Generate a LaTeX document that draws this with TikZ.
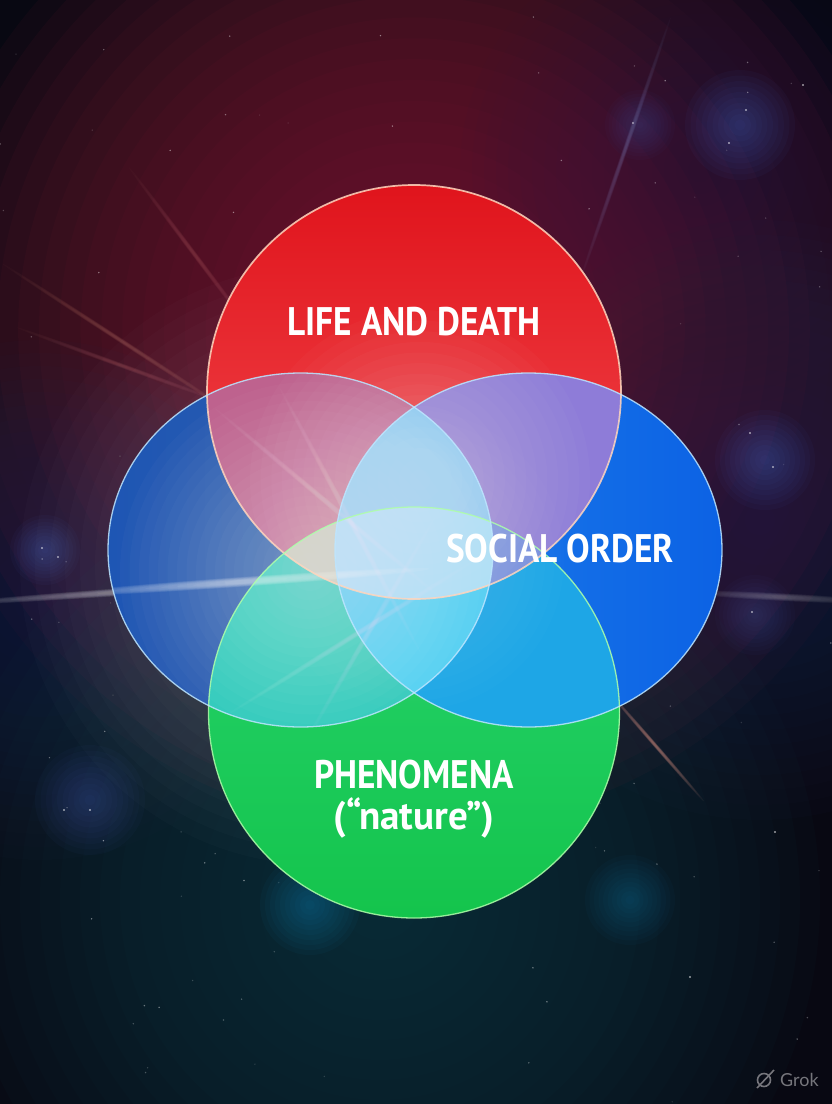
\documentclass[tikz,border=0pt]{standalone}
\usepackage{fontspec}
\setmainfont{PT Sans}
\newfontfamily\lblfont{PT Sans}[FakeStretch=0.885]
\newfontfamily\natfont{PT Sans}[FakeStretch=0.98]
\newfontfamily\wmfont{Lato}
\usetikzlibrary{calc}

\definecolor{bgbase}{RGB}{8,8,18}
\definecolor{glowmaroon}{RGB}{128,28,52}
\definecolor{glownavy}{RGB}{34,42,88}
\definecolor{glowteal}{RGB}{22,60,72}
\definecolor{nebblue}{RGB}{80,110,210}
\definecolor{redtop}{RGB}{224,20,28}
\definecolor{redbot}{RGB}{244,78,82}
\definecolor{lonlyA}{RGB}{30,86,180}
\definecolor{lonlyB}{RGB}{52,96,168}
\definecolor{ronlyA}{RGB}{30,128,236}
\definecolor{ronlyB}{RGB}{12,98,228}
\definecolor{gtop}{RGB}{40,212,112}
\definecolor{gbot}{RGB}{20,196,76}
\definecolor{cRL}{RGB}{190,98,142}
\definecolor{cRR}{RGB}{142,124,216}
\definecolor{cGL}{RGB}{40,200,186}
\definecolor{cGR}{RGB}{30,166,230}
\definecolor{cRLR}{RGB}{132,196,240}
\definecolor{cGLR}{RGB}{72,206,242}
\definecolor{cRGL}{RGB}{206,200,182}
\definecolor{cRGR}{RGB}{112,138,222}
\definecolor{cAll}{RGB}{168,224,245}
\definecolor{redline}{RGB}{255,214,190}
\definecolor{raycol}{RGB}{255,170,150}
\definecolor{blueline}{RGB}{190,230,255}
\definecolor{greenline}{RGB}{175,255,170}
\definecolor{wmgrey}{RGB}{118,118,124}

\def\Rpath{(414,392) circle [radius=207]}
\def\Lpath{(300.5,550) ellipse [x radius=192.5, y radius=177]}
\def\RTpath{(528.5,550) ellipse [x radius=193.5, y radius=177]}
\def\Gpath{(414,712.5) circle [radius=205.5]}

% soft glow: colour, x, y, radius, peak opacity, steps
\newcommand\mkglow[6]{%
  \pgfmathsetmacro\mkga{1-(1-#5)^(1/#6)}%
  \foreach \mkk in {1,...,#6}{\fill[#1, opacity=\mkga] (#2,#3) circle [radius={#4*\mkk/#6}];}%
}
% light streak: colour, x, y, rotation, half length, half width, peak opacity
\newcommand\mkstreak[7]{%
  \pgfmathsetmacro\mksa{1-(1-#7)^(1/12)}%
  \foreach \mkk in {1,...,12}{\fill[#1, opacity=\mksa, rotate around={#4:(#2,#3)}] (#2,#3) ellipse [x radius={#5*\mkk/12}, y radius={#6*(0.3+0.7*\mkk/12)}];}%
}

\tikzset{
  lbl/.style={text=white, font=\lblfont\fontsize{40}{44}\selectfont\bfseries, inner sep=0pt},
  outline/.style={line width=1.3pt, draw opacity=0.85}
}

\begin{document}
\begin{tikzpicture}[x=1bp,y=-1bp]
\useasboundingbox (0,0) rectangle (832,1104);
% ---------- background ----------
\fill[bgbase] (0,0) rectangle (832,1104);
\mkglow{glowmaroon}{414}{330}{500}{0.85}{24}
\mkglow{glownavy}{760}{520}{300}{0.6}{20}
\mkglow{glownavy}{40}{600}{260}{0.6}{20}
\mkglow{glowteal}{380}{900}{440}{0.75}{22}
\mkglow{glownavy}{700}{170}{240}{0.4}{20}
% nebula patches
\mkglow{nebblue}{740}{125}{55}{0.35}{10}
\mkglow{nebblue}{640}{125}{35}{0.25}{10}
\mkglow{nebblue}{765}{460}{50}{0.35}{10}
\mkglow{nebblue}{90}{800}{55}{0.3}{10}
\mkglow{nebblue}{45}{550}{35}{0.35}{10}
\mkglow{nebblue}{755}{615}{40}{0.25}{10}
\mkglow{cGR}{630}{900}{45}{0.25}{10}
\mkglow{cGR}{310}{905}{50}{0.3}{10}
% stars
\pgfmathsetseed{7}
\foreach \i in {1,...,110}{
  \pgfmathsetmacro\sx{rnd*832}
  \pgfmathsetmacro\sy{rnd*1104}
  \pgfmathsetmacro\so{0.1+0.4*rnd}
  \fill[white, opacity=\so] (\sx,\sy) circle [radius=0.8];
}
\foreach \p in {(746,110),(729,143),(803,85),(633,123),(773,467),(750,433),(42,548),(58,557),(90,810),(64,810),(775,832),(752,612),(690,977)}{
  \fill[white, opacity=0.6] \p circle [radius=1.2];
}
% light streaks behind the circles
\mkstreak{white}{150}{590}{4}{210}{4}{0.45}
\mkstreak{white}{780}{597}{-3}{100}{4}{0.25}
\mkstreak{raycol}{120}{340}{-33}{140}{2.5}{0.25}
\mkstreak{raycol}{120}{365}{-20}{110}{2.5}{0.2}
\mkstreak{raycol}{195}{255}{-53}{110}{2.5}{0.22}
\mkstreak{nebblue!60!white}{625}{150}{71}{140}{2.5}{0.3}
\mkstreak{raycol}{655}{745}{-49}{75}{2}{0.5}
\mkglow{white}{320}{565}{300}{0.28}{20}

% ---------- single sets ----------
\shade[top color=redtop, bottom color=redbot] \Rpath;
\shade[left color=lonlyA, right color=lonlyB] \Lpath;
\shade[left color=ronlyA, right color=ronlyB] \RTpath;
\shade[top color=gtop, bottom color=gbot] \Gpath;
% ---------- pairs ----------
\begin{scope}\clip \Rpath; \fill[cRL] \Lpath; \fill[cRR] \RTpath; \end{scope}
\begin{scope}\clip \Gpath; \fill[cGL] \Lpath; \fill[cGR] \RTpath; \end{scope}
% ---------- triples ----------
\begin{scope}\clip \Rpath; \clip \Lpath; \fill[cRLR] \RTpath; \end{scope}
\begin{scope}\clip \Gpath; \clip \Lpath; \fill[cGLR] \RTpath; \end{scope}
\begin{scope}\clip \Rpath; \clip \Gpath; \fill[cRGL] \Lpath; \end{scope}
\begin{scope}\clip \Rpath; \clip \Gpath; \fill[cRGR] \RTpath; \end{scope}
% ---------- all four ----------
\begin{scope}\clip \Rpath; \clip \Gpath; \clip \Lpath; \fill[cAll] \RTpath; \end{scope}

% ---------- lighting over the sets ----------
\begin{scope}
\clip \Lpath;
\mkglow{white}{310}{572}{190}{0.4}{20}
\mkstreak{white}{240}{582}{4}{190}{5}{0.5}
\mkstreak{white}{330}{505}{-40}{150}{3}{0.25}
\mkstreak{white}{350}{520}{-62}{150}{3}{0.25}
\mkstreak{white}{355}{635}{32}{150}{3}{0.25}
\mkstreak{white}{370}{630}{60}{130}{3}{0.2}
\end{scope}
\begin{scope}
\clip \Rpath;
\mkglow{white}{420}{480}{170}{0.3}{16}
\end{scope}
\mkglow{white}{414}{560}{150}{0.2}{16}

% ---------- outlines ----------
\draw[outline, redline, line width=1.7pt] \Rpath;
\draw[outline, greenline] \Gpath;
\draw[outline, blueline] \Lpath;
\draw[outline, blueline] \RTpath;

% ---------- labels ----------
\node[lbl, anchor=base] (life) at (414,335) {LIFE AND DEATH};
\node[lbl, anchor=base] (social) at (560,562) {SOCIAL ORDER};
\node[lbl, anchor=base] (phen) at (414,788) {PHENOMENA};
\node[lbl, anchor=base, font=\natfont\fontsize{40}{44}\selectfont\bfseries] (nat) at (414,829) {(“nature”)};

% ---------- watermark ----------
\draw[wmgrey, line width=1.6pt] (764,1080) circle [radius=6.5];
\draw[wmgrey, line width=1.6pt] (757,1088) -- (774,1070);
\node[wmgrey, font=\wmfont\fontsize{18}{20}\selectfont, anchor=base west, inner sep=0pt] (grok) at (780,1086) {Grok};
\end{tikzpicture}
\end{document}
